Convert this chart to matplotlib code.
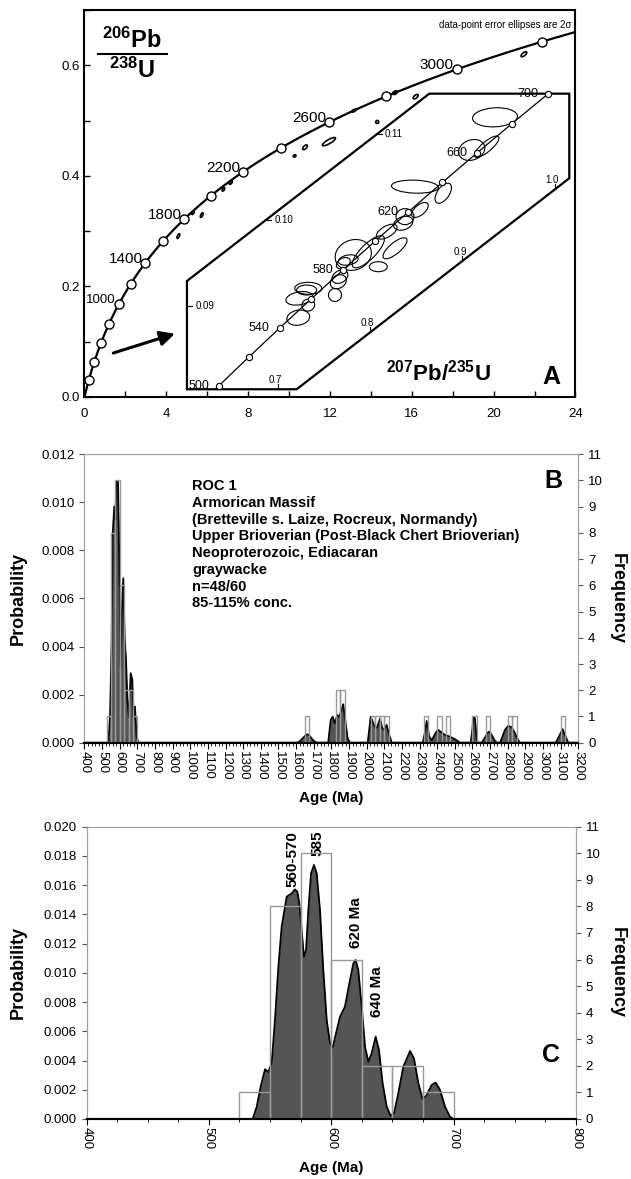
import numpy as np
import matplotlib.pyplot as plt
import matplotlib.transforms as mtransforms
from matplotlib.patches import Ellipse, Polygon
from matplotlib.ticker import MultipleLocator, FormatStrFormatter

plt.rcParams['font.family'] = ['Liberation Sans', 'DejaVu Sans']
plt.rcParams['mathtext.fontset'] = 'custom'
plt.rcParams['mathtext.rm'] = 'Liberation Sans'
plt.rcParams['mathtext.bf'] = 'Liberation Sans:bold'
plt.rcParams['mathtext.it'] = 'Liberation Sans:italic'

# ---------------- panel A : concordia ----------------
# decay constants (1/yr) used to draw the concordia reference curve
lam238 = 1.55125e-10
lam235 = 9.8485e-10
conc_ages = np.arange(0, 3601, 25)
marker_ages = list(range(200, 3201, 200))
label_ages = [1000, 1400, 1800, 2200, 2600, 3000]
inset_marker_ages = list(range(500, 701, 20))
inset_label_ages = [500, 540, 580, 620, 660, 700]

# older grains plotted on the full diagram (207/235, 206/238, size px)
oe_x = [4.59, 5.30, 5.73, 6.79, 7.15, 10.27, 10.78, 11.95, 14.31, 13.17, 16.19, 15.18, 21.48]
oe_y = [0.291, 0.3334, 0.329, 0.3757, 0.3877, 0.436, 0.4517, 0.4619, 0.4975, 0.518, 0.5433, 0.5505, 0.620]
oe_w = [5, 4, 5, 4, 4, 3, 6, 15, 3, 5, 6, 5, 7]
oe_h = [2, 2, 2, 2, 2, 2, 3, 4, 3, 2, 3, 3, 3]
oe_a = [65, 65, 65, 60, 50, 30, 45, 30, 0, 30, 40, 30, 40]

# young grains in the inset (207/235, 206/238, size px)
ie_x = [0.9352, 0.9100, 0.9262, 0.8486, 0.8792, 0.8378, 0.8540, 0.8359, 0.8180, 0.8270,
        0.7818, 0.7981, 0.7764, 0.8089, 0.7656, 0.7674, 0.7620, 0.7710,
        0.7331, 0.7314, 0.7234, 0.7331, 0.7223]
ie_y = [0.11198, 0.10817, 0.10855, 0.10389, 0.10312, 0.10039, 0.10117, 0.09962, 0.09864, 0.09670,
        0.09592, 0.09630, 0.09533, 0.09455, 0.09280, 0.09338, 0.09125, 0.09495,
        0.09203, 0.09183, 0.09086, 0.09008, 0.08860]
ie_w = [45, 27, 31, 47, 23, 18, 20, 20, 23, 30, 37, 43, 20, 18, 17, 17, 13, 15, 27, 20, 27, 13, 23]
ie_h = [19, 20, 10, 13, 12, 16, 10, 13, 11, 11, 30, 15, 10, 10, 13, 12, 13, 10, 12, 10, 13, 12, 15]
ie_a = [3, 20, 40, -2, 55, 0, 40, 20, 30, 40, 20, 45, 10, 0, 30, 30, 60, 30, 0, 0, 10, 30, 10]

# inset outline (in inset units) and its ticks
box_x = [0.6018, 0.6018, 0.8641, 1.0156, 1.0156, 0.7205]
box_y = [0.08025, 0.09288, 0.11474, 0.11474, 0.10487, 0.08025]
inset_yticks = [0.09, 0.10, 0.11]
inset_xticks = [0.7, 0.8, 0.9, 1.0]

# ---------------- panel B : whole age spectrum ----------------
B_age = [400, 535, 545, 554, 560, 569, 575, 580, 590, 597, 605, 613, 620, 628, 635, 643, 652, 662, 671, 679, 686, 696, 705,
         1603, 1620, 1640, 1655, 1663, 1675, 1690, 1705, 1720,
         1782, 1796, 1807, 1820, 1833, 1845, 1858, 1867, 1881, 1892, 1905,
         2006, 2023, 2034, 2049, 2060, 2076, 2088, 2100, 2113, 2128, 2142,
         2318, 2330, 2340, 2355, 2369, 2378, 2395, 2406, 2425, 2444, 2472, 2501, 2529,
         2590, 2600, 2605, 2614, 2624, 2633,
         2652, 2670, 2685, 2695, 2710, 2725, 2737,
         2756, 2770, 2784, 2803, 2822, 2841, 2855, 2869,
         3073, 3090, 3111, 3125, 3143, 3200]
B_prob = [0, 0, 0.00108, 0.00427, 0.00871, 0.00982, 0.00927, 0.01086, 0.01086, 0.00774, 0.00316, 0.00566, 0.00684,
          0.00427, 0.00351, 0.00178, 0.00108, 0.00289, 0.00261, 0.00094, 0.0015, 0.00025, 0,
          0, 0.00005, 0.0002, 0.00032, 0.00035, 0.0003, 0.00015, 0.00004, 0,
          0, 0.00094, 0.00108, 0.0008, 0.00115, 0.00108, 0.00136, 0.0016, 0.0008, 0.00018, 0,
          0, 0.00108, 0.00087, 0.0006, 0.00064, 0.00101, 0.0006, 0.00053, 0.00074, 0.00032, 0,
          0, 0.0004, 0.0009, 0.00025, 0.0001, 0.00022, 0.00045, 0.00053, 0.00042, 0.00032, 0.00025, 0.00014, 0,
          0, 0.0006, 0.00108, 0.00101, 0.0001, 0,
          0, 0.0002, 0.0004, 0.00046, 0.0003, 0.0001, 0,
          0, 0.00025, 0.00053, 0.0007, 0.00064, 0.00039, 0.00015, 0,
          0, 0.00025, 0.00056, 0.0003, 0, 0]
B_bins = [525, 550, 575, 600, 625, 650, 675, 1650, 1825, 1850, 2025, 2050, 2075, 2100,
          2325, 2400, 2450, 2600, 2675, 2800, 2825, 3100]
B_counts = [1, 8, 10, 6, 2, 2, 1, 1, 2, 2, 1, 1, 1, 1, 1, 1, 1, 1, 1, 1, 1, 1]
B_text = ("ROC 1\nArmorican Massif\n(Bretteville s. Laize, Rocreux, Normandy)\n"
          "Upper Brioverian (Post-Black Chert Brioverian)\nNeoproterozoic, Ediacaran\n"
          "graywacke\nn=48/60\n85-115% conc.")

# ---------------- panel C : 400-800 Ma ----------------
C_age = [400, 535.8, 539.1, 542.3, 545.9, 548.6, 551.3, 554.0, 556.8, 559.5, 563.6, 567.7, 570.4, 572.3,
         573.9, 575.8, 577.7, 579.4, 581.3, 583.5, 585.9, 588.1, 590.8, 593.5, 596.3, 599.0, 601.2, 603.9,
         607.2, 611.2, 614.8, 618.1, 620.0, 622.1, 624.9, 627.6, 630.3, 633.0, 636.3, 639.0, 642.0, 645.3,
         648.6, 651.3, 654.8, 658.9, 664.4, 667.6, 671.2, 674.7, 678.0, 682.1, 685.3, 688.9, 693.0, 697.0,
         699.8, 800]
C_prob = [0, 0, 0.00084, 0.00221, 0.0034, 0.00322, 0.00381, 0.00677, 0.01042, 0.01316, 0.01521, 0.01544,
          0.01571, 0.01555, 0.01476, 0.01293, 0.01111, 0.01156, 0.0143, 0.01681, 0.01738, 0.01681, 0.0143,
          0.0102, 0.00677, 0.00518, 0.0049, 0.00586, 0.007, 0.00769, 0.00928, 0.01065, 0.01088, 0.0102,
          0.00769, 0.00495, 0.00392, 0.00449, 0.00563, 0.00472, 0.00244, 0.00084, 0.00021, 0.00039, 0.00176,
          0.00358, 0.00465, 0.00415, 0.00244, 0.00134, 0.00164, 0.00233, 0.00249, 0.00199, 0.00084, 0.00016,
          0, 0]
C_bins = [525, 550, 575, 600, 625, 650, 675]
C_counts = [1, 8, 10, 6, 2, 2, 1]
C_peak_labels = ["560-570", "585", "620 Ma", "640 Ma"]
C_peak_x = [568.7, 589, 620, 637.8]
C_peak_y = [0.0159, 0.0180, 0.0117, 0.0070]


def r75(t):
    return np.exp(lam235 * np.asarray(t, dtype=float) * 1e6) - 1


def r68(t):
    return np.exp(lam238 * np.asarray(t, dtype=float) * 1e6) - 1


fig = plt.figure(figsize=(6.31, 11.79), dpi=100)

# ===== A =====
axA = fig.add_axes([0.1339, 0.6633, 0.7781, 0.3282])
axA.set_xlim(0, 24)
axA.set_ylim(0, 0.7)
axA.plot(r75(conc_ages), r68(conc_ages), color='k', lw=1.6, zorder=2)
axA.plot(r75(marker_ages), r68(marker_ages), 'o', ms=6.5, mfc='white', mec='k', mew=1, zorder=3)
for t in label_ages:
    axA.annotate(str(t), (r75(t), r68(t)), xytext=(-2, 3), textcoords='offset points',
                 ha='right', va='center', fontsize=11 if t > 1000 else 9.5)
for x, y, w, h, a in zip(oe_x, oe_y, oe_w, oe_h, oe_a):
    tr = fig.dpi_scale_trans + mtransforms.ScaledTranslation(x, y, axA.transData)
    axA.add_patch(Ellipse((0, 0), w / 100, h / 100, angle=a, transform=tr, fill=False, lw=1.2, ec='k'))

axA.xaxis.set_major_locator(MultipleLocator(4))
axA.xaxis.set_minor_locator(MultipleLocator(2))
axA.yaxis.set_major_locator(MultipleLocator(0.2))
axA.yaxis.set_minor_locator(MultipleLocator(0.1))
axA.yaxis.set_major_formatter(FormatStrFormatter('%.1f'))
axA.tick_params(which='both', direction='in', length=4, width=1, labelsize=9.5)
axA.tick_params(axis='x', pad=8)
for s in axA.spines.values():
    s.set_linewidth(1.5)

axA.text(0.991, 0.961, 'data-point error ellipses are 2σ', transform=axA.transAxes,
         ha='right', va='center', fontsize=7)
axA.text(0.0967, 0.922, r'$\mathbf{^{206}Pb}$', transform=axA.transAxes, ha='center', va='center', fontsize=17)
axA.plot([0.027, 0.168], [0.886, 0.886], transform=axA.transAxes, color='k', lw=1.5)
axA.text(0.0967, 0.845, r'$\mathbf{^{238}U}$', transform=axA.transAxes, ha='center', va='center', fontsize=17)
axA.text(0.721, 0.062, r'$\mathbf{^{207}Pb/^{235}U}$', transform=axA.transAxes, ha='center', va='center', fontsize=16)
axA.text(0.950, 0.052, 'A', transform=axA.transAxes, ha='center', va='center', fontsize=18, fontweight='bold')
axA.annotate('', xy=(4.55, 0.116), xytext=(1.28, 0.078),
             arrowprops=dict(arrowstyle='-|>', lw=2.2, color='k', mutation_scale=22))

# inset drawn on a transparent axes with its own scale
axI = fig.add_axes([0.1339, 0.6633, 0.7781, 0.3282])
axI.set_xlim(0.4909, 1.0223)
axI.set_ylim(0.07935, 0.12450)
axI.axis('off')
box = Polygon(np.column_stack([box_x, box_y]), closed=True, fill=False, ec='k', lw=1.6)
axI.add_patch(box)
ln, = axI.plot(r75(np.arange(480, 721, 5)), r68(np.arange(480, 721, 5)), color='k', lw=0.9)
ln.set_clip_path(box)
axI.plot(r75(inset_marker_ages), r68(inset_marker_ages), 'o', ms=4.5, mfc='white', mec='k', mew=0.8, zorder=4)
for t in inset_label_ages:
    axI.annotate(str(t), (r75(t), r68(t)), xytext=(-7, 0), textcoords='offset points',
                 ha='right', va='center', fontsize=9)
for x, y, w, h, a in zip(ie_x, ie_y, ie_w, ie_h, ie_a):
    tr = fig.dpi_scale_trans + mtransforms.ScaledTranslation(x, y, axI.transData)
    axI.add_patch(Ellipse((0, 0), w / 100, h / 100, angle=a, transform=tr, fill=False, lw=0.8, ec='k', zorder=3))

left_chain_y, left_chain_x = box_y[:3], box_x[:3]
for v in inset_yticks:
    x0 = np.interp(v, left_chain_y, left_chain_x)
    axI.plot([x0, x0 + 0.006], [v, v], color='k', lw=0.8)
    axI.text(x0 + 0.009, v, '%.2f' % v, ha='left', va='center', fontsize=7)
bot_x = [box_x[0], box_x[5], box_x[4]]
bot_y = [box_y[0], box_y[5], box_y[4]]
for v in inset_xticks:
    y0 = np.interp(v, bot_x, bot_y)
    axI.plot([v, v], [y0, y0 + 0.0006], color='k', lw=0.8)
    axI.annotate('%.1f' % v, (v, y0), xytext=(3, 3), textcoords='offset points',
                 ha='right', va='bottom', fontsize=7)

gray = '#a0a0a0'


def style_hist_axes(ax, ax2):
    for a in (ax, ax2):
        for side in ('top', 'left', 'right'):
            a.spines[side].set_color(gray)
        a.spines['bottom'].set_color('k')
        a.spines['bottom'].set_linewidth(1.5)
    ax.tick_params(axis='y', labelsize=9.5, color='#555555')
    ax2.tick_params(axis='y', labelsize=9.5, color='#555555')
    ax.tick_params(axis='x', which='major', labelsize=9.5, length=4, labelrotation=-90, pad=2)
    ax.tick_params(axis='x', which='minor', length=2)
    ax.yaxis.set_major_formatter(FormatStrFormatter('%.3f'))


# ===== B =====
axB = fig.add_axes([0.1339, 0.3701, 0.7826, 0.2446])
axB.fill_between(B_age, B_prob, color='#555555', lw=0)
axB.plot(B_age, B_prob, color='k', lw=1.3)
axB.set_xlim(400, 3200)
axB.set_ylim(0, 0.012)
axB.set_xticks(range(400, 3201, 100))
axB.xaxis.set_minor_locator(MultipleLocator(20))
axB.set_yticks(np.arange(0, 0.0121, 0.002))
axB2 = axB.twinx()
axB2.bar(B_bins, B_counts, width=25, align='edge', fill=False, edgecolor='#999999', lw=1)
axB2.set_ylim(0, 11)
axB2.set_yticks(range(0, 12))
style_hist_axes(axB, axB2)
axB.text(0.2185, 0.914, B_text, transform=axB.transAxes, ha='left', va='top',
         fontsize=10.5, fontweight='bold', linespacing=1.25)
axB.text(0.949, 0.908, 'B', transform=axB.transAxes, ha='center', va='center', fontsize=18, fontweight='bold')
fig.text(0.0285, 0.4924, 'Probability', rotation=90, ha='center', va='center', fontsize=13, fontweight='bold')
fig.text(0.978, 0.4924, 'Frequency', rotation=270, ha='center', va='center', fontsize=13, fontweight='bold')
fig.text(0.525, 0.323, 'Age (Ma)', ha='center', va='center', fontsize=11, fontweight='bold')

# ===== C =====
axC = fig.add_axes([0.1371, 0.0509, 0.7757, 0.2479])
axC.fill_between(C_age, C_prob, color='#555555', lw=0)
axC.plot(C_age, C_prob, color='k', lw=1.3)
axC.set_xlim(400, 800)
axC.set_ylim(0, 0.020)
axC.set_xticks(range(400, 801, 100))
axC.xaxis.set_minor_locator(MultipleLocator(25))
axC.set_yticks(np.arange(0, 0.0201, 0.002))
axC2 = axC.twinx()
axC2.bar(C_bins, C_counts, width=25, align='edge', fill=False, edgecolor='#999999', lw=1)
axC2.set_ylim(0, 11)
axC2.set_yticks(range(0, 12))
style_hist_axes(axC, axC2)
for s, x, y in zip(C_peak_labels, C_peak_x, C_peak_y):
    axC.text(x, y, s, rotation=90, ha='center', va='bottom', fontsize=11, fontweight='bold')
axC.text(0.948, 0.22, 'C', transform=axC.transAxes, ha='center', va='center', fontsize=18, fontweight='bold')
fig.text(0.0285, 0.1748, 'Probability', rotation=90, ha='center', va='center', fontsize=13, fontweight='bold')
fig.text(0.978, 0.1748, 'Frequency', rotation=270, ha='center', va='center', fontsize=13, fontweight='bold')
fig.text(0.525, 0.0093, 'Age (Ma)', ha='center', va='center', fontsize=11, fontweight='bold')

fig.savefig('out.png', dpi=100)
